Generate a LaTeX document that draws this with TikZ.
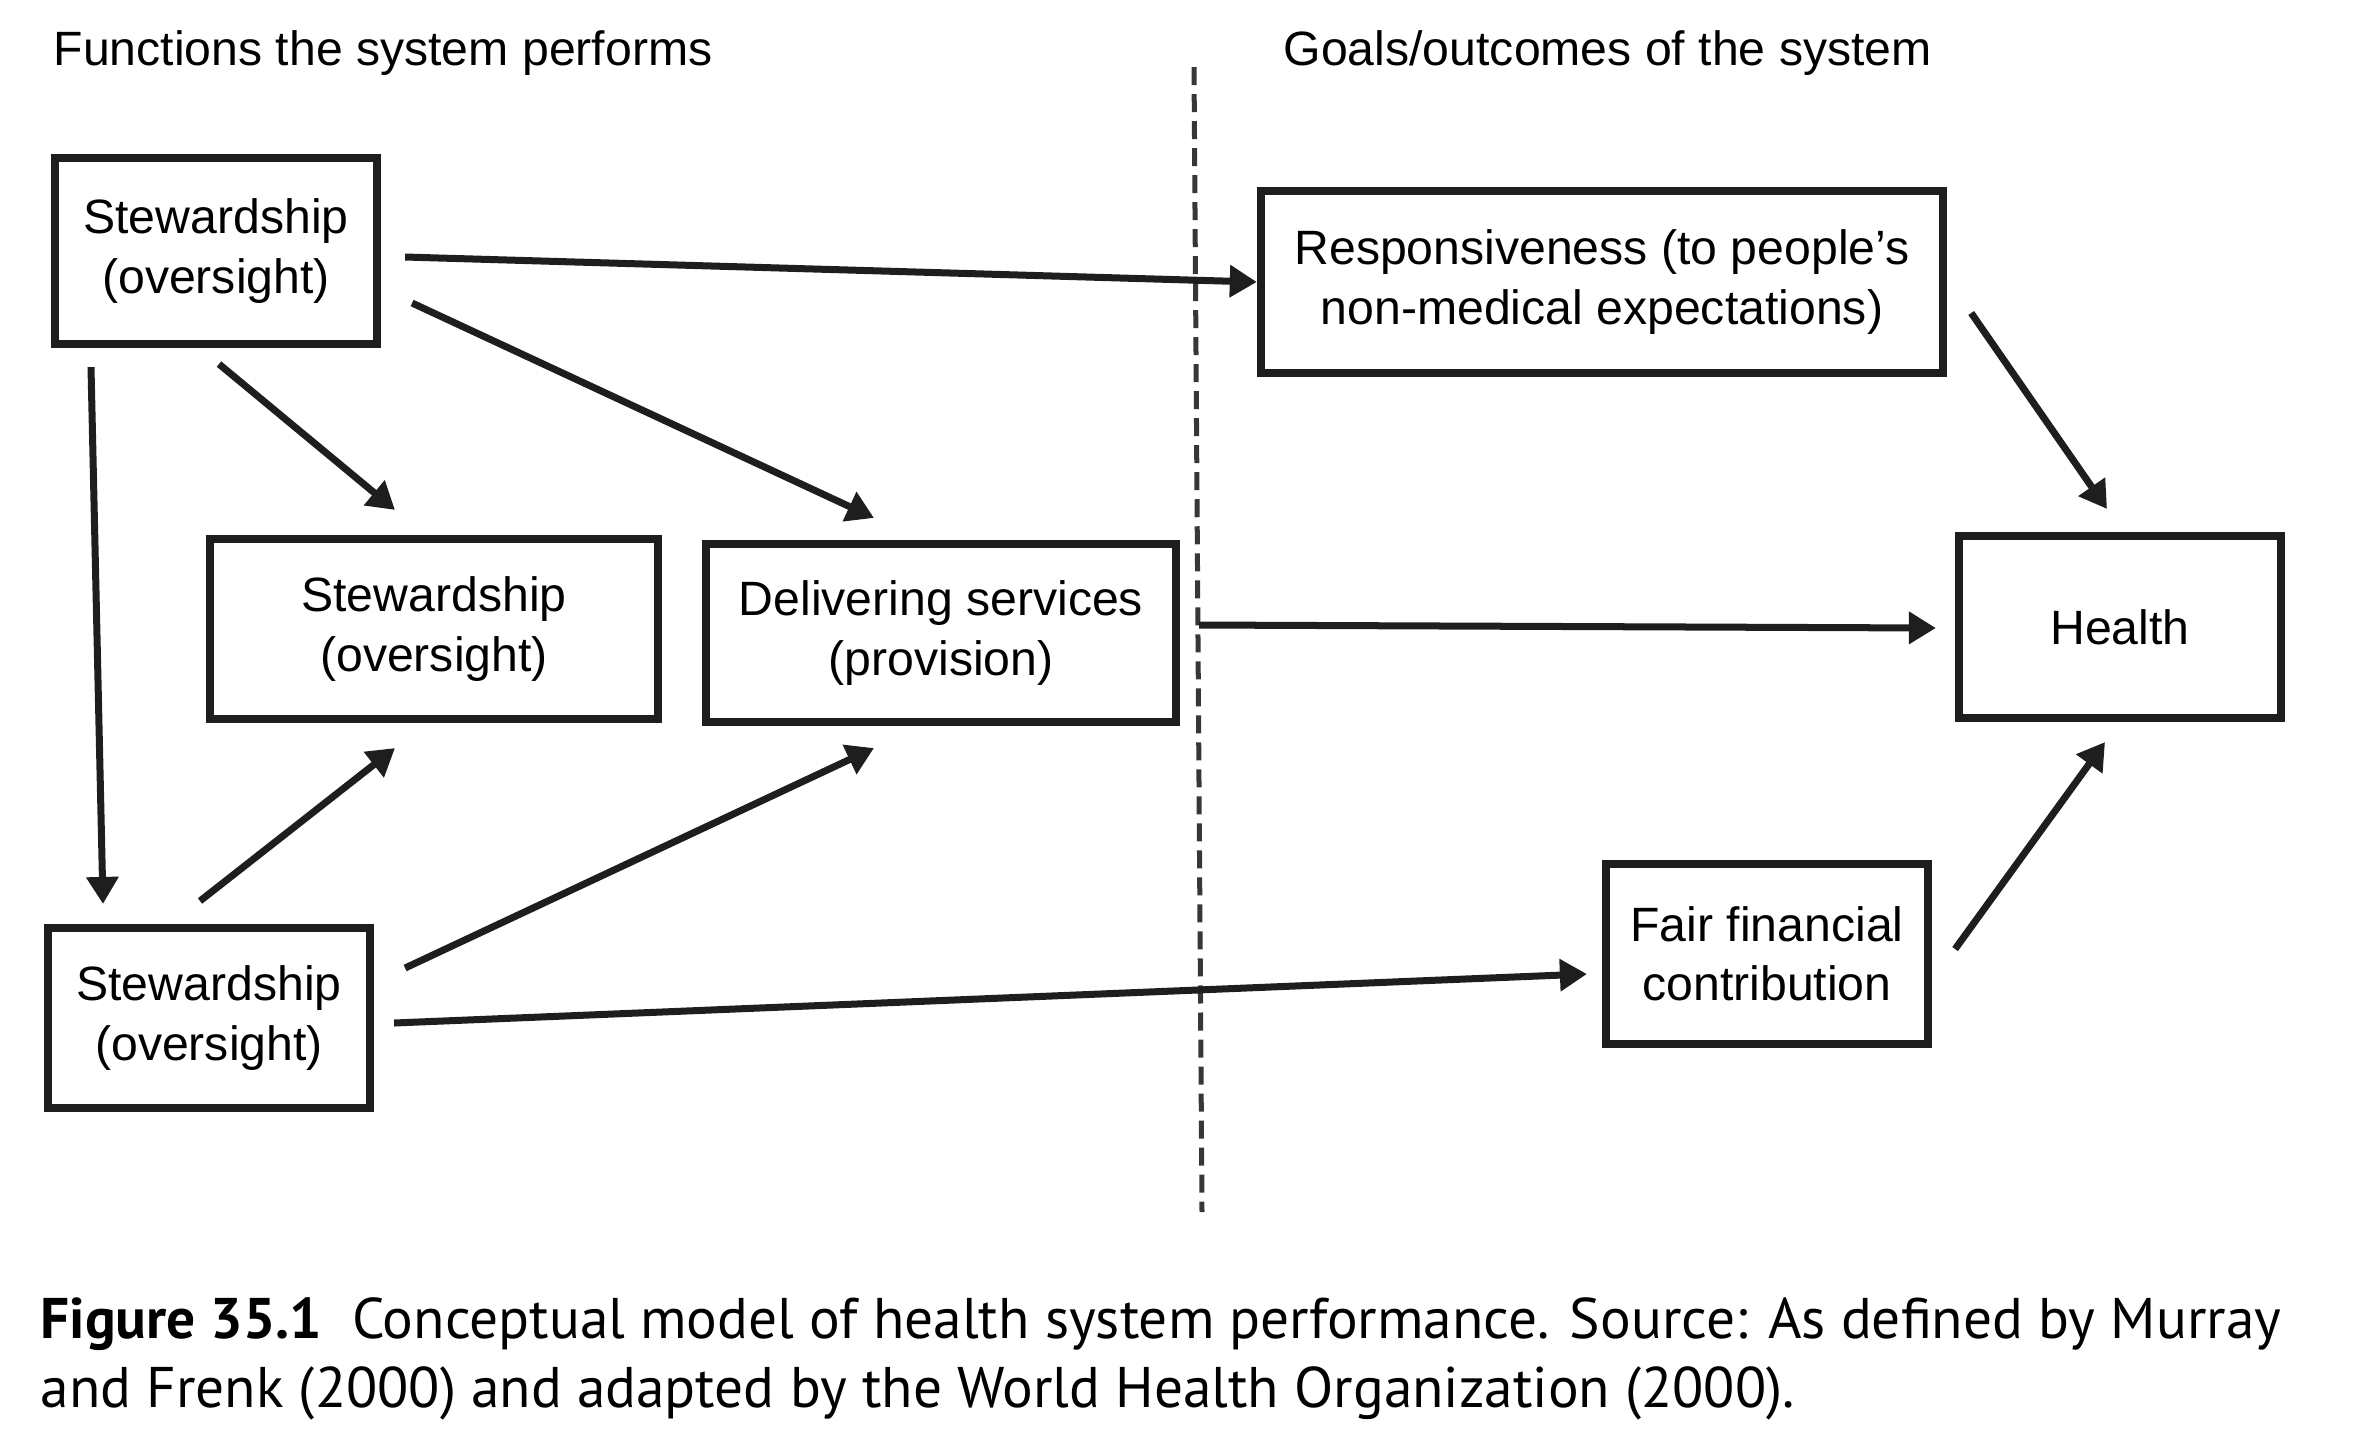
\documentclass[tikz,border=0pt]{standalone}
\usepackage{fontspec}
\setmainfont{Liberation Sans}
\newfontfamily\capfont{PT Sans}
\usetikzlibrary{arrows.meta,calc}
\definecolor{InkBlack}{RGB}{30,30,30}
\definecolor{DashGray}{RGB}{55,55,55}
\tikzset{
  %% function / goal boxes
  fnbox/.style={rectangle,draw=InkBlack,line width=0.08cm,
                font=\fontsize{13.7}{16.8}\selectfont,align=center,
                inner sep=0pt},
  %% column headings
  colhead/.style={anchor=base west,inner sep=0pt,
                  font=\fontsize{13.7}{16.8}\selectfont},
  %% caption lines
  capline/.style={anchor=base west,inner sep=0pt,
                  font=\capfont\fontsize{16.3}{19.6}\selectfont},
  %% arrows
  plarr/.style={-{Triangle[length=0.27cm,width=0.31cm]},
                line width=0.07cm,color=InkBlack},
  divline/.style={line width=0.05cm,color=DashGray,
                  dash pattern=on 0.18cm off 0.09cm},
}
\begin{document}
\begin{tikzpicture}[x=0.01cm,y=-0.01cm]
    \useasboundingbox (0,0) rectangle (2372,1453);

    %% ── headings ────────────────────────────────────────────
    \node[colhead] (hfun) at (53,65)   {Functions the system performs};
    \node[colhead] (hgoal) at (1283,65) {Goals/outcomes of the system};

    %% ── divider ─────────────────────────────────────────────
    \coordinate (dtop) at (1194,67);
    \coordinate (dbot) at (1202,1212);
    \draw[divline] (dtop) -- (dbot);

    %% ── functions (left side) ───────────────────────────────
    \node[fnbox,minimum width=3.22cm,minimum height=1.86cm] (st1) at (216,251)
      {Stewardship\\(oversight)};
    \node[fnbox,minimum width=4.48cm,minimum height=1.80cm] (st2) at (434,629)
      {Stewardship\\(oversight)};
    \node[fnbox,minimum width=4.70cm,minimum height=1.78cm] (dlv) at (941,633)
      {Delivering services\\(provision)};
    \node[fnbox,minimum width=3.22cm,minimum height=1.80cm] (st3) at (209,1018)
      {Stewardship\\(oversight)};

    %% ── goals (right side) ──────────────────────────────────
    \node[fnbox,minimum width=6.82cm,minimum height=1.82cm] (resp) at (1602,282)
      {Responsiveness (to people’s\\non-medical expectations)};
    \node[fnbox,minimum width=3.22cm,minimum height=1.82cm] (hlth) at (2120,627)
      {Health};
    \node[fnbox,minimum width=3.22cm,minimum height=1.80cm] (fair) at (1767,954)
      {Fair financial\\contribution};

    %% ── arrows from the top box ─────────────────────────────
    \draw[plarr] ($(st1.east)+(24,6)$)   -- (resp.west);
    \draw[plarr] ($(st1.east)+(31,52)$)  -- ($(dlv.north)+(-67,-22)$);
    \draw[plarr] ($(st1.south)+(3,16)$)  -- ($(st2.north)+(-39,-25)$);
    \draw[plarr] ($(st1.south)+(-125,19)$) -- ($(st3.north)+(-106,-20)$);

    %% ── arrows from the bottom box ──────────────────────────
    \draw[plarr] ($(st3.north)+(-9,-23)$) -- ($(st2.south)+(-39,25)$);
    \draw[plarr] ($(st3.east)+(31,-50)$)  -- ($(dlv.south)+(-67,22)$);
    \draw[plarr] ($(st3.east)+(20,5)$)    -- ($(fair.west)+(-15,20)$);

    %% ── arrows into health ──────────────────────────────────
    \draw[plarr] ($(dlv.east)+(19,-8)$)  -- ($(hlth.west)+(-19,1)$);
    \draw[plarr] ($(resp.east)+(24,31)$) -- ($(hlth.north)+(-13,-23)$);
    \draw[plarr] ($(fair.east)+(23,-5)$) -- ($(hlth.south)+(-15,20)$);

    %% ── caption ─────────────────────────────────────────────
    \node[capline] (cap1) at (40,1338)
      {\textbf{Figure 35.1}\hspace{0.3cm}Conceptual model of health system performance. Source: As defined by Murray};
    \node[capline] (cap2) at (40,1407)
      {and Frenk (2000) and adapted by the World Health Organization (2000).};
\end{tikzpicture}
\end{document}
